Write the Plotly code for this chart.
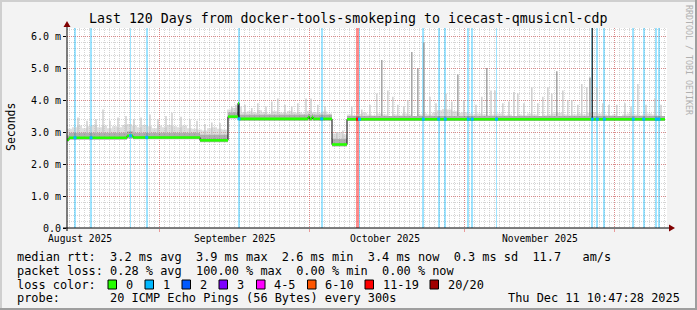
import pandas as pd
import plotly.graph_objects as go

# ---------------- data ----------------
TITLE = "Last 120 Days from docker-tools-smokeping to icecast-qmusicnl-cdp"
X_START = "2025-08-13 10:47"
X_END = "2025-12-11 10:47"
Y_MAX = 6.25

y_tick_vals = [0, 1, 2, 3, 4, 5, 6]
y_tick_text = ["0.0", "1.0 m", "2.0 m", "3.0 m", "4.0 m", "5.0 m", "6.0 m"]

month_starts = ["2025-09-01", "2025-10-01", "2025-11-01", "2025-12-01"]
month_labels = ["August 2025", "September 2025", "October 2025", "November 2025"]
month_label_at = ["2025-08-16", "2025-09-16", "2025-10-16", "2025-11-16"]

# median rtt (ms) as steps: value holds until next time
median_time = ["2025-08-13 10:47", "2025-08-13 20:23", "2025-08-25 10:47", "2025-08-26 15:35",
               "2025-09-09 01:11", "2025-09-14 15:35", "2025-09-16 15:35", "2025-09-16 20:23",
               "2025-09-30 15:35", "2025-09-30 22:47", "2025-10-01 10:47", "2025-10-01 15:35",
               "2025-10-05 10:47", "2025-10-08 10:47", "2025-12-11 01:11"]
median_ms = [2.76, 2.82, 2.88, 2.83, 2.74, 3.48, 3.90, 3.41, 3.47, 3.41, 3.47, 3.41, 2.61, 3.40, 3.40]
smoke_low_ms = [2.70, 2.76, 2.80, 2.77, 2.68, 3.42, 3.42, 3.35, 3.36, 3.35, 3.36, 3.35, 2.55, 3.34, 3.34]
smoke_dense_ms = [2.90, 2.98, 3.02, 2.98, 2.92, 3.62, 3.90, 3.55, 3.58, 3.55, 3.58, 3.55, 2.78, 3.50, 3.50]

# daily upper edge of the light smoke (ms), one value per day from X_START
smoke_top_ms = [
    3.10, 3.15, 3.20, 3.12, 3.18, 3.22, 3.15, 3.20, 3.12, 3.18, 3.15, 3.22, 3.25, 3.20,
    3.15, 3.22, 3.18, 3.12, 3.20, 3.15, 3.22, 3.18, 3.15, 3.20, 3.12, 3.10, 3.08,
    3.05, 3.12, 3.15, 3.10, 3.08,
    3.70, 3.75, 3.80,
    3.62, 3.65, 3.60, 3.68, 3.62, 3.58, 3.65, 3.62, 3.60, 3.66, 3.60, 3.62, 3.58, 3.66,
    3.62, 3.60, 3.64, 3.58,
    2.95, 3.00, 2.92,
    3.55, 3.52, 3.56, 3.60, 3.55, 3.52, 3.58, 3.55, 3.50, 3.55, 3.52, 3.58, 3.55, 3.50,
    3.55, 3.58, 3.55, 3.60, 3.68, 3.72, 3.70, 3.65, 3.60, 3.62, 3.58, 3.55, 3.58, 3.55,
    3.52, 3.55, 3.58, 3.52, 3.55, 3.50, 3.55, 3.52, 3.58, 3.55, 3.50, 3.52, 3.55, 3.58,
    3.60, 3.55, 3.52, 3.55, 3.58, 3.55, 3.60, 3.62, 3.58, 3.55, 3.52, 3.55, 3.50, 3.55,
    3.58, 3.55, 3.52, 3.55, 3.58, 3.55, 3.52, 3.50]

# individual smoke spikes (top of the highest pings, ms)
spike_time = [
    "2025-08-15 15:35", "2025-08-17 10:47", "2025-08-19 06:00", "2025-08-20 15:35", "2025-08-22 01:00",
    "2025-08-23 15:35", "2025-08-25 06:00", "2025-08-26 20:00", "2025-08-28 06:00", "2025-08-30 01:00",
    "2025-08-31 15:35", "2025-09-02 06:00", "2025-09-03 10:47", "2025-09-05 06:00", "2025-09-07 01:00",
    "2025-09-08 10:47", "2025-09-10 01:00", "2025-09-11 10:00", "2025-09-13 01:00", "2025-09-15 10:00",
    "2025-09-16 06:00", "2025-09-18 01:00", "2025-09-19 10:00", "2025-09-20 15:00", "2025-09-22 06:00",
    "2025-09-23 10:00", "2025-09-24 15:00", "2025-09-26 01:00", "2025-09-27 10:00", "2025-09-28 15:00",
    "2025-09-30 06:00", "2025-10-01 06:00", "2025-10-02 15:00", "2025-10-04 01:00", "2025-10-06 10:00",
    "2025-10-07 15:00", "2025-10-09 10:00", "2025-10-11 10:00", "2025-10-13 01:00", "2025-10-14 10:00",
    "2025-10-15 10:00", "2025-10-16 15:00", "2025-10-17 15:00", "2025-10-18 15:00", "2025-10-19 20:00",
    "2025-10-20 15:00", "2025-10-21 10:00", "2025-10-22 15:00", "2025-10-23 20:00", "2025-10-25 01:00",
    "2025-10-26 06:00", "2025-10-28 06:00", "2025-10-29 10:00", "2025-10-30 15:00", "2025-10-31 20:00",
    "2025-11-03 06:00", "2025-11-04 10:00", "2025-11-05 10:00", "2025-11-06 06:00", "2025-11-07 01:00",
    "2025-11-08 15:00", "2025-11-09 20:00", "2025-11-10 20:00", "2025-11-11 15:00", "2025-11-12 20:00",
    "2025-11-14 10:00", "2025-11-15 15:00", "2025-11-16 15:00", "2025-11-17 15:00", "2025-11-18 10:00",
    "2025-11-19 10:00", "2025-11-20 15:00", "2025-11-21 15:00", "2025-11-22 10:00", "2025-11-23 15:00",
    "2025-11-24 10:00", "2025-11-25 10:00", "2025-11-26 01:00", "2025-11-27 10:00", "2025-11-28 15:00",
    "2025-11-29 20:00", "2025-12-01 10:00", "2025-12-03 01:00", "2025-12-04 06:00", "2025-12-05 15:00",
    "2025-12-07 06:00", "2025-12-09 01:00", "2025-12-10 06:00"]
spike_ms = [
    3.45, 3.35, 3.40, 3.70, 3.35, 3.45, 3.50, 3.40, 3.45, 3.55,
    3.40, 3.50, 3.60, 3.48, 3.40, 3.35, 3.25, 3.30, 3.28, 3.80,
    3.85, 3.85, 3.75, 3.90, 3.80, 3.95, 4.05, 3.85, 3.80, 3.90,
    4.05, 4.05, 3.85, 3.80, 3.00, 3.05, 3.80, 3.70, 3.85, 4.20,
    5.25, 4.30, 4.10, 3.85, 3.80, 4.00, 5.50, 5.00, 5.80, 4.10,
    3.90, 4.20, 3.95, 4.80, 4.00, 3.85, 4.10, 5.00, 4.30, 4.30,
    3.90, 3.95, 4.25, 4.20, 3.90, 4.40, 3.90, 4.10, 4.40, 4.20,
    4.90, 4.30, 4.00, 4.00, 3.85, 4.50, 4.40, 4.70, 4.40, 3.90,
    3.85, 3.85, 3.90, 3.80, 4.50, 3.85, 4.05, 3.85]

# all-pings-high event (dark smoke to the top)
dark_spike_time = ["2025-11-26 12:13"]
dark_spike_ms = [6.40]

# packet loss events (lost pings out of 20)
loss_time = ["2025-08-15 01:11", "2025-08-18 05:59", "2025-08-26 03:35", "2025-08-29 09:20",
             "2025-09-16 20:23", "2025-10-03 09:20", "2025-10-10 13:11", "2025-10-10 22:47",
             "2025-10-23 17:00", "2025-10-26 18:56", "2025-10-28 02:37", "2025-11-01 17:00",
             "2025-11-02 11:45", "2025-11-07 08:23", "2025-11-26 12:13", "2025-11-27 12:13",
             "2025-11-28 21:47", "2025-12-04 17:00", "2025-12-06 18:56", "2025-12-09 07:23",
             "2025-12-09 20:23"]
loss_count = [1, 1, 1, 1, 1, 1, 15, 1, 1, 1, 1, 1, 1, 1, 1, 1, 1, 1, 1, 1, 1]

legend_lines = [
    "median rtt:  3.2 ms avg  3.9 ms max  2.6 ms min  3.4 ms now  0.3 ms sd  11.7   am/s",
    "packet loss: 0.28 % avg  100.00 % max  0.00 % min  0.00 % now",
    "loss color:",
    "probe:       20 ICMP Echo Pings (56 Bytes) every 300s",
]
loss_color_labels = ["0", "1", "2", "3", "4-5", "6-10", "11-19", "20/20"]
loss_color_values = ["#26ff00", "#00b8ff", "#0059ff", "#7e00ff", "#ff00ff", "#ff5500", "#ff0000", "#a10000"]
timestamp_text = "Thu Dec 11 10:47:28 2025"
watermark = "RRDTOOL / TOBI OETIKER"

# ---------------- layout geometry (pixels) ----------------
W, H = 697, 310
L, R, T, B = 67, 667, 28, 228
FONT = "DejaVu Sans Mono"


def px(x):
    return (x - L) / (R - L)


def py(y):
    return (B - y) / (B - T)


def nb(s):
    return s.replace(" ", "\u00a0")


def loss_color(n):
    if n == 0:
        return loss_color_values[0]
    if n == 1:
        return loss_color_values[1]
    if n == 2:
        return loss_color_values[2]
    if n == 3:
        return loss_color_values[3]
    if n <= 5:
        return loss_color_values[4]
    if n <= 10:
        return loss_color_values[5]
    if n <= 19:
        return loss_color_values[6]
    return loss_color_values[7]


def loss_bar_color(n):
    return "rgba(255,0,0,0.45)" if n > 3 else "rgba(0,184,255,0.38)"


# ---------------- build step tables ----------------
mt = pd.DatetimeIndex(pd.to_datetime(median_time))
sd = pd.date_range(X_START, periods=len(smoke_top_ms), freq="D")


def step(ts, vals, t):
    i = ts.searchsorted(t, side="right") - 1
    return vals[max(i, 0)]


grid = sorted(set(list(sd)) | set(list(mt)))
grid = [t for t in grid if t <= mt[-1]]
g_low = [step(mt, smoke_low_ms, t) for t in grid]
g_dense = [step(mt, smoke_dense_ms, t) for t in grid]
g_top = [step(sd, smoke_top_ms, t) for t in grid]

fig = go.Figure()

# loss bars (full height)
for n in sorted(set(loss_count)):
    xs = [t for t, c in zip(loss_time, loss_count) if c == n]
    fig.add_trace(go.Bar(
        x=xs, y=[Y_MAX] * len(xs), base=0,
        width=(14.4 if n > 3 else 8.0) * 3600 * 1000,
        marker=dict(color=loss_bar_color(n), line=dict(width=0)),
        hoverinfo="skip"))

# smoke
fig.add_trace(go.Scatter(x=grid, y=g_low, mode="lines", line=dict(width=0, shape="hv"),
                         hoverinfo="skip"))
fig.add_trace(go.Scatter(x=grid, y=g_dense, mode="lines", line=dict(width=0, shape="hv"),
                         fill="tonexty", fillcolor="rgba(110,110,110,0.55)", hoverinfo="skip"))
fig.add_trace(go.Scatter(x=grid, y=g_top, mode="lines", line=dict(width=0, shape="hv"),
                         fill="tonexty", fillcolor="rgba(190,190,190,0.5)", hoverinfo="skip"))

# spikes
for tall in (False, True):
    sx, sy = [], []
    for t, v in zip(spike_time, spike_ms):
        if (v >= 4.6) != tall:
            continue
        tt = pd.Timestamp(t)
        sx += [tt, tt, None]
        sy += [step(mt, smoke_dense_ms, tt), v, None]
    fig.add_trace(go.Scatter(x=sx, y=sy, mode="lines",
                             line=dict(width=1.2, color="#8c8c8c" if tall else "#c2c2c2"),
                             hoverinfo="skip"))
dx, dy = [], []
for t, v in zip(dark_spike_time, dark_spike_ms):
    tt = pd.Timestamp(t)
    dx += [tt, tt, None]
    dy += [step(mt, median_ms, tt), v, None]
fig.add_trace(go.Scatter(x=dx, y=dy, mode="lines", line=dict(width=1.3, color="#303030"),
                         hoverinfo="skip"))

# median: black step line underneath, green plateaus on top
fig.add_trace(go.Scatter(x=list(mt), y=median_ms, mode="lines",
                         line=dict(width=1, color="#000000", shape="hv"), hoverinfo="skip"))
gx, gy = [], []
for i in range(len(mt) - 1):
    gx += [mt[i], mt[i + 1], None]
    gy += [median_ms[i], median_ms[i], None]
fig.add_trace(go.Scatter(x=gx, y=gy, mode="lines",
                         line=dict(width=2.6, color=loss_color_values[0]), hoverinfo="skip"))

# loss-coloured median points
lt = [pd.Timestamp(t) for t in loss_time]
fig.add_trace(go.Scatter(x=lt, y=[step(mt, median_ms, t) for t in lt], mode="markers",
                         marker=dict(symbol="square", size=3, color=[loss_color(n) for n in loss_count],
                                     line=dict(width=0)),
                         hoverinfo="skip"))

grid_minor = "rgba(150,150,150,0.4)"
grid_major = "rgba(222,80,80,0.55)"

fig.update_xaxes(
    type="date", range=[X_START, X_END], tickmode="array", tickvals=month_starts,
    showticklabels=False, ticks="outside", ticklen=3, tickcolor=grid_major,
    showgrid=True, gridcolor=grid_major, griddash="1px,1px", gridwidth=1,
    minor=dict(tickmode="linear", tick0="2025-08-01", dtick=86400000, showgrid=True,
               gridcolor=grid_minor, griddash="1px,1px", gridwidth=1, ticks=""),
    showline=False, zeroline=False, fixedrange=True)
fig.update_yaxes(
    range=[0, Y_MAX], tickmode="array", tickvals=y_tick_vals, ticktext=y_tick_text,
    ticks="outside", ticklen=3, tickcolor="#000000",
    tickfont=dict(family=FONT, size=10, color="#000000"),
    showgrid=True, gridcolor=grid_major, griddash="1px,1px", gridwidth=1,
    minor=dict(tickmode="linear", tick0=0, dtick=0.2, showgrid=True,
               gridcolor=grid_minor, griddash="1px,1px", gridwidth=1, ticks=""),
    showline=False, zeroline=False, fixedrange=True)

ann = []
ann.append(dict(text=nb(TITLE), x=px(348), y=py(18.5), xref="paper", yref="paper",
                xanchor="center", yanchor="middle", showarrow=False,
                font=dict(family=FONT, size=13.25, color="#000000")))
ann.append(dict(text="Seconds", x=px(10.5), y=py(127.5), xref="paper", yref="paper",
                textangle=-90, xanchor="center", yanchor="middle", showarrow=False,
                font=dict(family=FONT, size=11.5, color="#000000")))
ann.append(dict(text=nb(watermark), x=px(689), y=py(60), xref="paper", yref="paper",
                textangle=90, xanchor="center", yanchor="middle", showarrow=False,
                font=dict(family=FONT, size=8.3, color="#b0b0b0")))
for lab, at in zip(month_labels, month_label_at):
    ann.append(dict(text=nb(lab), x=at, y=py(238), xref="x", yref="paper",
                    xanchor="center", yanchor="middle", showarrow=False,
                    font=dict(family=FONT, size=9.7, color="#000000")))
legend_y = [257, 271, 284.5, 298]
for line, yy in zip(legend_lines, legend_y):
    ann.append(dict(text=nb(line), x=px(14.5), y=py(yy), xref="paper", yref="paper",
                    xanchor="left", yanchor="middle", showarrow=False,
                    font=dict(family=FONT, size=11.9, color="#000000")))
ann.append(dict(text=nb(timestamp_text), x=px(682), y=py(legend_y[3]), xref="paper", yref="paper",
                xanchor="right", yanchor="middle", showarrow=False,
                font=dict(family=FONT, size=11.9, color="#000000")))

box_x = [108, 145, 182, 219, 256.5, 307.5, 365, 430]
shapes = []
for bx, lab, col in zip(box_x, loss_color_labels, loss_color_values):
    shapes.append(dict(type="rect", xref="paper", yref="paper",
                       x0=px(bx), x1=px(bx + 8.5), y0=py(legend_y[2] + 4.5), y1=py(legend_y[2] - 4.5),
                       fillcolor=col, line=dict(color="#000000", width=1)))
    ann.append(dict(text=nb(lab), x=px(bx + 15.5), y=py(legend_y[2]), xref="paper", yref="paper",
                    xanchor="left", yanchor="middle", showarrow=False,
                    font=dict(family=FONT, size=11.9, color="#000000")))

# axes with arrows
shapes.append(dict(type="line", xref="paper", yref="paper", x0=px(67), x1=px(67), y0=py(231), y1=py(25),
                   line=dict(color="#000000", width=1)))
shapes.append(dict(type="line", xref="paper", yref="paper", x0=px(63), x1=px(670), y0=py(228), y1=py(228),
                   line=dict(color="#000000", width=1)))
shapes.append(dict(type="path", xref="paper", yref="paper",
                   path=f"M {px(67)} {py(21)} L {px(63.5)} {py(27)} L {px(70.5)} {py(27)} Z",
                   fillcolor="#800000", line=dict(width=0)))
shapes.append(dict(type="path", xref="paper", yref="paper",
                   path=f"M {px(675)} {py(228)} L {px(669)} {py(224.5)} L {px(669)} {py(231.5)} Z",
                   fillcolor="#800000", line=dict(width=0)))
# image frame
shapes.append(dict(type="line", xref="paper", yref="paper", x0=px(0), x1=px(W), y0=py(1), y1=py(1),
                   line=dict(color="#cfcfcf", width=2)))
shapes.append(dict(type="line", xref="paper", yref="paper", x0=px(1), x1=px(1), y0=py(0), y1=py(H),
                   line=dict(color="#cfcfcf", width=2)))
shapes.append(dict(type="line", xref="paper", yref="paper", x0=px(0), x1=px(W), y0=py(H - 1), y1=py(H - 1),
                   line=dict(color="#9e9e9e", width=2)))
shapes.append(dict(type="line", xref="paper", yref="paper", x0=px(W - 1), x1=px(W - 1), y0=py(0), y1=py(H),
                   line=dict(color="#9e9e9e", width=2)))

fig.update_layout(
    width=W, height=H, margin=dict(l=L, r=W - R, t=T, b=H - B, pad=0),
    paper_bgcolor="#f3f3f3", plot_bgcolor="#ffffff",
    showlegend=False, barmode="overlay", bargap=0,
    annotations=ann, shapes=shapes,
    font=dict(family=FONT, size=10, color="#000000"),
)

fig.write_html("out.html", config={"displayModeBar": False})
